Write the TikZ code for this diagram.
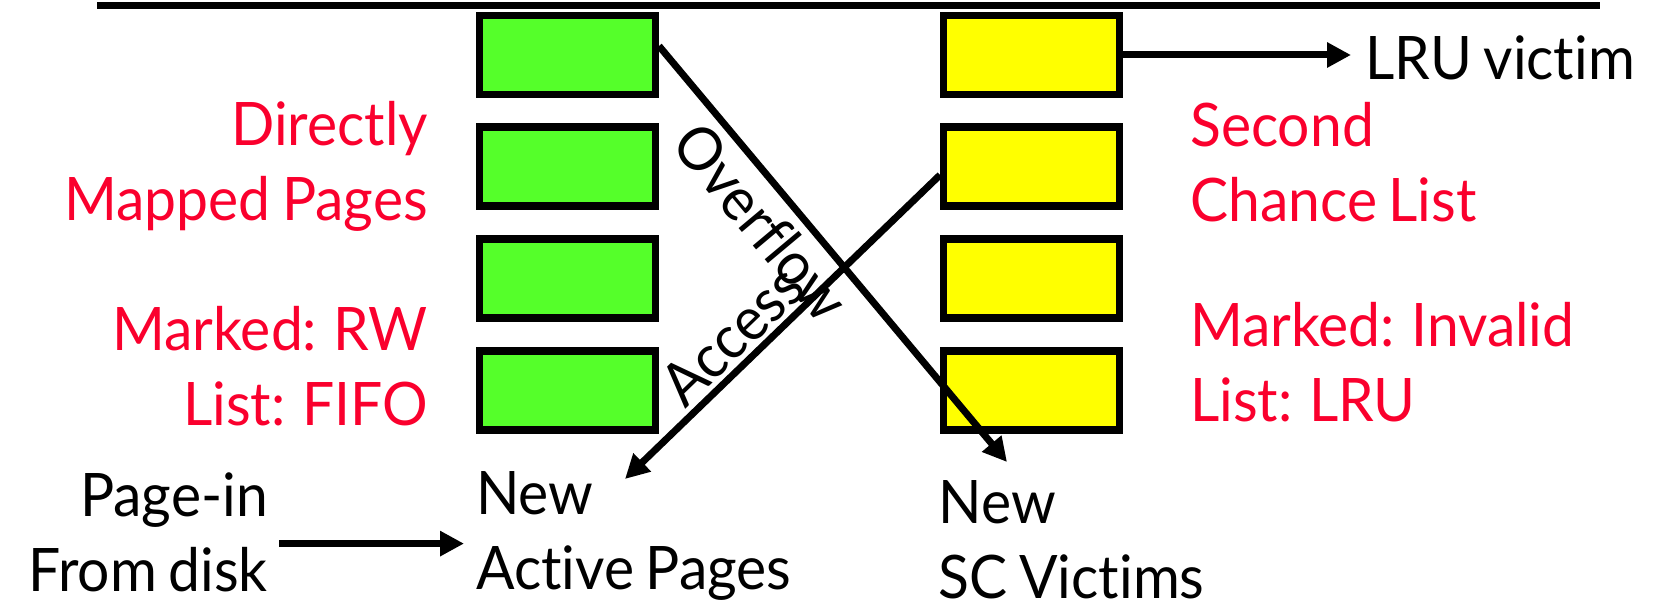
\documentclass[tikz,border=0pt]{standalone}
\usepackage{fontspec}
\setmainfont{Lato}[Ligatures=NoCommon, FakeStretch=0.95, WordSpace=0.8]
\usetikzlibrary{arrows.meta}
\definecolor{gbox}{RGB}{85,255,42}
\definecolor{ybox}{RGB}{255,255,0}
\definecolor{lred}{RGB}{250,0,45}
\begin{document}
\begin{tikzpicture}[x=1pt,y=1pt,
  box/.style={draw, line width=7.5pt, minimum width=176pt, minimum height=79pt, inner sep=0pt},
  gbx/.style={box, fill=gbox},
  ybx/.style={box, fill=ybox},
  lbl/.style={font=\fontsize{60}{75}\selectfont, inner sep=0pt},
  redlbl/.style={lbl, text=lred},
  arr/.style={line width=7pt, -{Triangle[length=24pt,width=24pt]}},
  rule/.style={line width=7pt}
]
\useasboundingbox (0,0) rectangle (1661,605);
\coordinate (ruleL) at (97,599);
\coordinate (ruleR) at (1600,599);
\draw[rule] (ruleL) -- (ruleR);
% boxes
\node[gbx] (g1) at (567.5,550) {};
\node[gbx] (g2) at (567.5,438.25) {};
\node[gbx] (g3) at (567.5,326.5) {};
\node[gbx] (g4) at (567.5,214.5) {};
\node[ybx] (y1) at (1031.5,550) {};
\node[ybx] (y2) at (1031.5,438.25) {};
\node[ybx] (y3) at (1031.5,326.5) {};
\node[ybx] (y4) at (1031.5,214.5) {};
% red labels (base anchor = last line baseline)
\node[redlbl, align=right, anchor=base east] (dmp) at (428,384) {Directly\\Mapped Pages};
\node[redlbl, align=right, anchor=base east] (mrw) at (428,179) {Marked: RW\\List: FIFO};
\node[redlbl, align=left, anchor=base west] (scl) at (1190,383) {Second\\Chance List};
\node[redlbl, align=left, anchor=base west] (minv) at (1190,183) {Marked: Invalid\\List: LRU};
% black labels
\node[lbl, align=right, anchor=base east] (pagein) at (268,14) {Page-in\\From disk};
\node[lbl, align=left, anchor=base west] (newact) at (476,16) {New\\Active Pages};
\node[lbl, align=left, anchor=base west] (newsc) at (938.5,7) {New\\SC Victims};
\node[lbl, anchor=base west] (lru) at (1365,525) {LRU victim};
% arrow end coordinates
\coordinate (pgS) at (279,61.4);
\coordinate (pgE) at (464,61.4);
\coordinate (ovS) at (659,559);
\coordinate (ovE) at (1007,143);
\coordinate (acS) at (940,430);
\coordinate (acE) at (625,126);
\coordinate (lruE) at (1351,550);
% connectors
\draw[arr] (pgS) -- (pgE);
\draw[arr] (ovS) -- node[lbl, sloped, anchor=north, pos=0.369, inner sep=8pt] (ovl) {Overflow} (ovE);
\draw[arr] (acS) -- node[lbl, sloped, anchor=south, pos=0.596, inner sep=4pt] (acl) {Access} (acE);
\draw[arr] (y1.east) -- (lruE);
\end{tikzpicture}
\end{document}
